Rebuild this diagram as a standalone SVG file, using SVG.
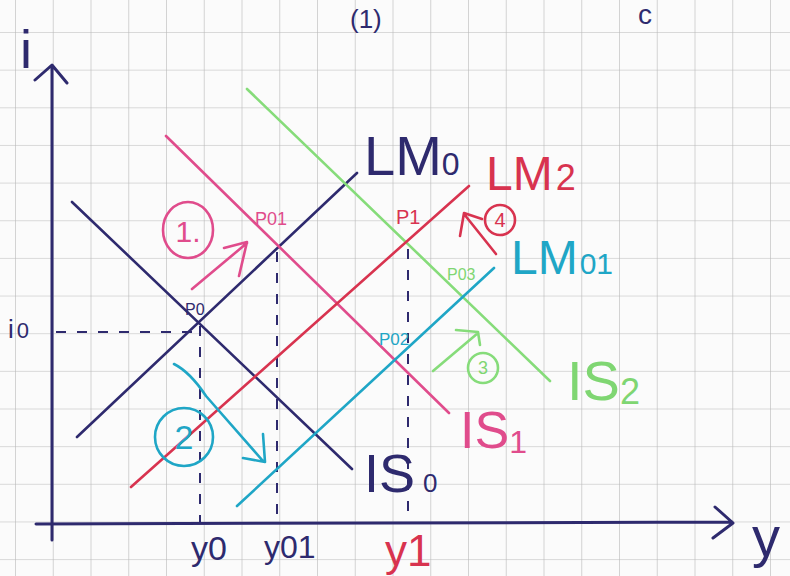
<svg xmlns="http://www.w3.org/2000/svg" width="790" height="576" viewBox="0 0 790 576">
<defs>
<pattern id="grid" patternUnits="userSpaceOnUse" x="15" y="32" width="37.75" height="37.65">
<path d="M0 0 H37.75 M0 0 V37.65" fill="none" stroke="#b8b8b8" stroke-width="1.2"/>
</pattern>
<style>
text{font-family:"Liberation Sans","DejaVu Sans",sans-serif}
.ln{fill:none;stroke-width:2.6;stroke-linecap:round;stroke-linejoin:round}
.ax{fill:none;stroke:#2e2a6e;stroke-width:3;stroke-linecap:round;stroke-linejoin:round}
.dash{fill:none;stroke:#2e2a6e;stroke-width:2;stroke-dasharray:10 11}
.navy{stroke:#2e2a6e}.pink{stroke:#e04c8c}.red{stroke:#d8334f}.cyan{stroke:#1fa6c6}.green{stroke:#86dc7a}
.tn{fill:#2e2a6e}.tp{fill:#e04c8c}.tr{fill:#d8334f}.tc{fill:#1fa6c6}.tg{fill:#7fd672}
</style>
</defs>
<rect width="790" height="576" fill="#fbfbfb"/>
<rect width="790" height="576" fill="url(#grid)"/>

<g id="page-top">
<text x="350" y="28" font-size="26" class="tn">(1)</text>
<text x="638" y="24" font-size="28" class="tn">c</text>
</g>

<g id="axes">
<path class="ax" d="M52 540 V66 M35 80 L52 65 L67 83"/>
<path class="ax" d="M36 524 L732 522 M715 507 L733 523 L713 538"/>
<text x="20" y="68" font-size="54" class="tn">i</text>
<text x="752" y="556" font-size="56" class="tn">y</text>
</g>

<g id="connectors">
<path class="dash" d="M56 332 H196"/>
<path class="dash" d="M200 326 V524"/>
<path class="dash" d="M277 252 V522"/>
<path class="dash" d="M408 249 V522"/>
</g>

<g id="LM0">
<path class="ln navy" d="M77 437 L357 173"/>
<text x="364" y="175" font-size="56" class="tn">LM<tspan font-size="32">0</tspan></text>
</g>
<g id="IS0">
<path class="ln navy" d="M72 202 L352 469"/>
<text x="364" y="492" font-size="54" class="tn">IS<tspan font-size="26" dx="8">0</tspan></text>
</g>
<g id="IS1">
<path class="ln pink" d="M166 136 L449 413"/>
<text x="460" y="448" font-size="52" class="tp">IS<tspan font-size="32" dy="5">1</tspan></text>
</g>
<g id="IS2">
<path class="ln green" d="M247 89 L550 381"/>
<text x="567" y="400" font-size="56" class="tg">IS<tspan font-size="36" dy="4">2</tspan></text>
</g>
<g id="LM2">
<path class="ln red" d="M131 487 L469 186"/>
<text x="486" y="190" font-size="48" class="tr">LM<tspan font-size="36" dx="3">2</tspan></text>
</g>
<g id="LM01">
<path class="ln cyan" d="M237 506 L494 268"/>
<text x="511" y="274" font-size="48" class="tc">LM<tspan font-size="30" dx="2">01</tspan></text>
</g>

<g id="points">
<text x="185" y="315" font-size="16" class="tn">P0</text>
<text x="255" y="225" font-size="18" class="tp">P01</text>
<text x="396" y="224" font-size="20" class="tr">P1</text>
<text x="447" y="280" font-size="16" class="tg">P03</text>
<text x="379" y="345" font-size="17" class="tc">P02</text>
</g>

<g id="ticks">
<text x="8" y="338" font-size="26" class="tn">i<tspan font-size="22" dx="3">0</tspan></text>
<text x="191" y="560" font-size="34" class="tn">y0</text>
<text x="264" y="558" font-size="32" class="tn">y01</text>
<text x="385" y="566" font-size="44" class="tr">y1</text>
</g>

<g id="step1">
<ellipse cx="188" cy="230" rx="25" ry="28" class="ln pink"/>
<text x="188" y="242" font-size="30" text-anchor="middle" class="tp">1.</text>
<path class="ln pink" d="M192 289 L247 243 M224 248 L247 242 L239 276"/>
</g>
<g id="step2">
<circle cx="184" cy="437" r="29" class="ln cyan"/>
<text x="184" y="449" font-size="34" text-anchor="middle" class="tc">2</text>
<path class="ln cyan" d="M174 364 Q190 372 206 396 L263 461 M243 458 L265 462 L263 434"/>
</g>
<g id="step3">
<circle cx="483" cy="368" r="15" class="ln green"/>
<text x="483" y="374" font-size="18" text-anchor="middle" class="tg">3</text>
<path class="ln green" d="M433 371 L478 333 M456 330 L478 332 L480 345"/>
</g>
<g id="step4">
<circle cx="500" cy="220" r="15" class="ln red"/>
<text x="500" y="227" font-size="20" text-anchor="middle" class="tr">4</text>
<path class="ln red" d="M496 254 L464 214 M460 236 L464 213 L482 219"/>
</g>
</svg>
